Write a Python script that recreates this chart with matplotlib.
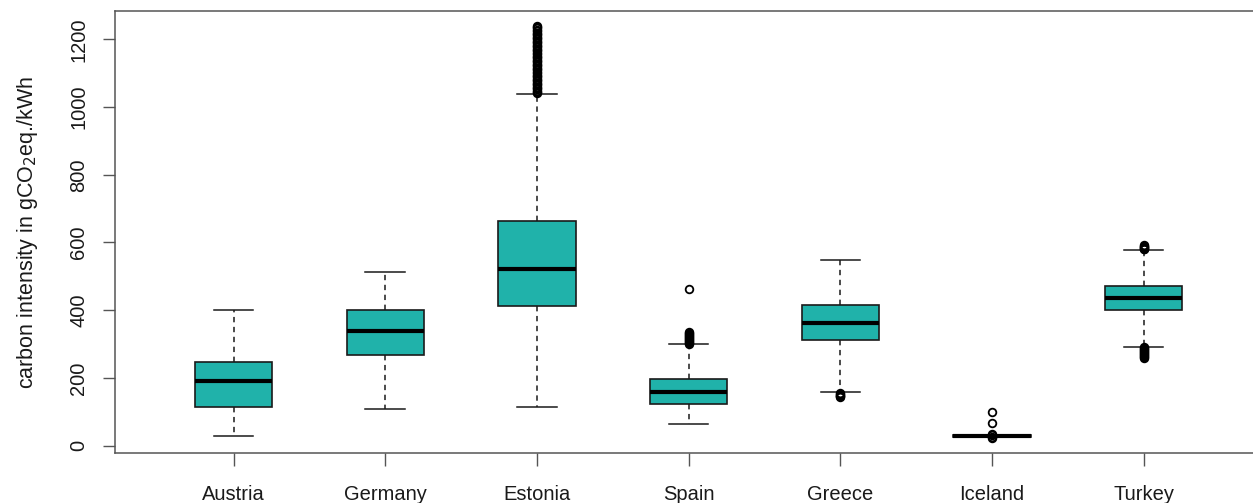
import numpy as np
import matplotlib.pyplot as plt

plt.rcParams['font.family'] = ['Liberation Sans', 'DejaVu Sans']

countries = ['Austria', 'Germany', 'Estonia', 'Spain', 'Greece', 'Iceland', 'Turkey']

# box statistics per country (gCO2eq./kWh)
q1 = [113, 267, 412, 124, 311, 27, 400]
med = [191, 340, 521, 158, 362, 29, 436]
q3 = [248, 400, 662, 196, 415, 31, 472]
whislo = [30, 109, 113, 65, 158, 26, 292]
whishi = [400, 514, 1038, 300, 548, 32, 578]

outliers = [
    [],
    [],
    [1040, 1044, 1048, 1052, 1056, 1060, 1064, 1068, 1072, 1076, 1080, 1084,
     1088, 1092, 1096, 1100, 1104, 1108, 1112, 1116, 1120, 1124, 1128, 1132,
     1136, 1140, 1144, 1148, 1152, 1156, 1160, 1164, 1168, 1172, 1176, 1180,
     1184, 1188, 1192, 1196, 1200, 1204, 1208, 1212, 1216, 1220, 1224, 1228,
     1232, 1236, 1240],
    [301, 304, 307, 310, 313, 316, 319, 322, 325, 328, 331, 334, 337, 462],
    [144, 146, 148, 150, 152, 155],
    [23, 25, 33, 35, 68, 100],
    [258, 261, 264, 267, 270, 273, 276, 279, 282, 285, 288, 291,
     580, 582, 584, 586, 588, 590, 592],
]

stats = []
for i, name in enumerate(countries):
    stats.append({'label': name, 'q1': q1[i], 'med': med[i], 'q3': q3[i],
                  'whislo': whislo[i], 'whishi': whishi[i], 'fliers': outliers[i]})

W, H = 1253, 503
fig = plt.figure(figsize=(W / 100, H / 100), dpi=100)
# frame runs past the right edge of the figure
left_px, right_px, top_px, bot_px = 114.5, 1275, 11, 453.3
ax = fig.add_axes([left_px / W, 1 - bot_px / H, (right_px - left_px) / W, (bot_px - top_px) / H])

x0, dx = 233.5, 151.7
ax.set_xlim(1 + (left_px - x0) / dx, 1 + (right_px - x0) / dx)
ax.set_ylim(-22.4, 1283.5)

# open circles (no fill) so overlapping outliers merge into a solid band
ax.bxp(stats, positions=range(1, 8), widths=0.51, capwidths=0.26, patch_artist=True,
       boxprops=dict(facecolor='#20B2AA', edgecolor='#1a1a1a', linewidth=1.2),
       medianprops=dict(color='black', linewidth=3),
       whiskerprops=dict(color='#1a1a1a', linewidth=1.1, linestyle=(0, (3.5, 3))),
       capprops=dict(color='#1a1a1a', linewidth=1.1),
       flierprops=dict(marker='o', markersize=5.5, markerfacecolor='none',
                       markeredgecolor='black', markeredgewidth=1.3))

frame = '#555555'
for side in ['left', 'bottom', 'top']:
    ax.spines[side].set_color(frame)
    ax.spines[side].set_linewidth(1.1)
ax.spines['right'].set_visible(False)

ax.set_yticks([0, 200, 400, 600, 800, 1000, 1200])
ax.set_xticks(range(1, 8))
ax.set_xticklabels(countries)
ax.tick_params(axis='both', direction='out', length=9, width=1.0, color=frame,
               labelsize=14.5, labelcolor='#1a1a1a')
ax.tick_params(axis='y', pad=10)
ax.tick_params(axis='x', pad=14)
for lab in ax.get_yticklabels():
    lab.set_rotation(90)
    lab.set_va('center')

ax.set_ylabel('carbon intensity in gCO$_2$eq./kWh', fontsize=15.5, color='#1a1a1a', labelpad=21)

fig.savefig('out.png', dpi=100)
